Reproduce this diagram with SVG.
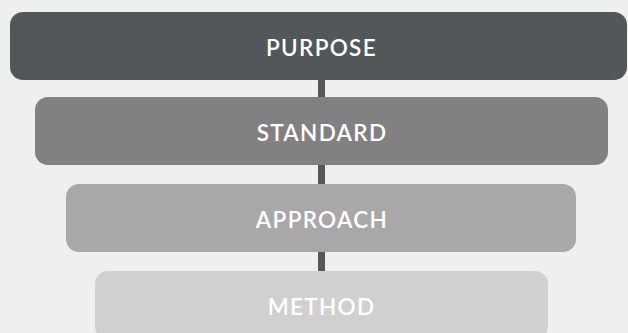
<svg xmlns="http://www.w3.org/2000/svg" width="628" height="333" viewBox="0 0 628 333">
  <style>
    .box { stroke: none; }
    .label { font-family: Lato, "Open Sans", "Liberation Sans", sans-serif; font-size: 22.5px; font-weight: 600; fill: #ffffff; text-anchor: middle; dominant-baseline: central; letter-spacing: 1.3px; }
    .link { stroke: #555759; stroke-width: 7; }
  </style>
  <rect x="0" y="0" width="628" height="333" fill="#eef0ef"/>
  <g id="connectors">
    <line class="link" x1="321.5" y1="78" x2="321.5" y2="273"/>
  </g>
  <g id="purpose">
    <rect class="box" x="10" y="12" width="617" height="68" rx="13" fill="#54575a"/>
    <text class="label" x="321.5" y="47">PURPOSE</text>
  </g>
  <g id="standard">
    <rect class="box" x="35" y="97" width="573" height="68" rx="13" fill="#838083"/>
    <text class="label" x="322" y="132">STANDARD</text>
  </g>
  <g id="approach">
    <rect class="box" x="66" y="184" width="510" height="68" rx="13" fill="#a9a7a9"/>
    <text class="label" x="322" y="219">APPROACH</text>
  </g>
  <g id="method">
    <rect class="box" x="95" y="271" width="453" height="68" rx="13" fill="#d1cfd0"/>
    <text class="label" x="321.5" y="306">METHOD</text>
  </g>
</svg>
